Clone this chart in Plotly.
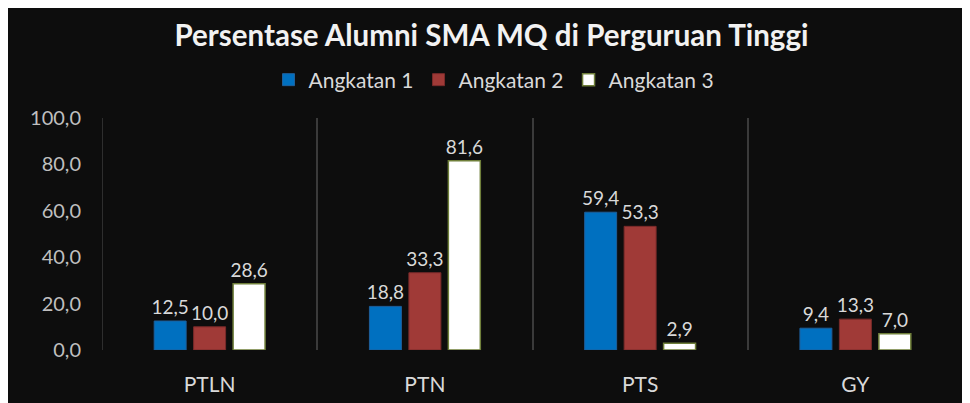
import plotly.graph_objects as go

categories = ["PTLN", "PTN", "PTS", "GY"]
angkatan1 = [12.5, 18.8, 59.4, 9.4]
angkatan2 = [10.0, 33.3, 53.3, 13.3]
angkatan3 = [28.6, 81.6, 2.9, 7.0]
series_names = ["Angkatan 1", "Angkatan 2", "Angkatan 3"]
y_ticks = [0, 20, 40, 60, 80, 100]

W, H = 970, 403
ML, MR, MT, MB = 94, 15, 110, 61

BG = "#0d0d0d"
FONT = "Lato"
TXT = "#d9d9d9"
GRID = "#3a3a3a"

fig = go.Figure()
styles = [
    dict(color="#0070C0", line=dict(color="#1f5f9a", width=1)),
    dict(color="#A03A37", line=dict(color="#7a2b2a", width=1)),
    dict(color="#FFFFFF", line=dict(color="#6f7f3a", width=1.5)),
]
for name, vals, st in zip(series_names, [angkatan1, angkatan2, angkatan3], styles):
    fig.add_trace(go.Bar(
        name=name, x=categories, y=vals,
        marker=st,
        texttemplate="%{y:.1f}", textposition="outside", constraintext="none",
        textfont=dict(family=FONT, size=19, color=TXT),
        cliponaxis=False,
    ))

# outer category boundary lines (left and right edges of the plot)
for xb in (-0.5, len(categories) - 0.5):
    fig.add_shape(type="line", xref="x", yref="paper", x0=xb, x1=xb, y0=0, y1=1,
                  line=dict(color=GRID, width=1.5), layer="below")

fig.update_layout(
    width=W, height=H,
    margin=dict(l=ML, r=MR, t=MT, b=MB, autoexpand=False),
    paper_bgcolor=BG, plot_bgcolor=BG,
    separators=",.",
    barmode="group", bargap=0.45, bargroupgap=0.19,
    title=dict(text="<b>Persentase Alumni SMA MQ di Perguruan Tinggi</b>",
               font=dict(family=FONT, size=29.5, color="#f2f2f2"),
               x=483.5 / W, xref="container", xanchor="center",
               y=1 - 28 / H, yref="container", yanchor="middle"),
    legend=dict(orientation="h", x=486 / W, xref="container", xanchor="center",
                y=1 - 72 / H, yref="container", yanchor="middle",
                font=dict(family=FONT, size=21, color=TXT), bgcolor="rgba(0,0,0,0)",
                itemwidth=30, traceorder="normal"),
    font=dict(family=FONT, color=TXT),
)
fig.update_xaxes(range=[-0.5, len(categories) - 0.5],
                 showgrid=True, tickson="boundaries", gridcolor=GRID, gridwidth=1.5,
                 showline=False, zeroline=False, ticks="",
                 tickfont=dict(family=FONT, size=21, color=TXT), ticklabelstandoff=20)
fig.update_yaxes(range=[0, 100], tickvals=y_ticks, tickformat=".1f", showgrid=False,
                 zeroline=False, showline=False,
                 tickfont=dict(family=FONT, size=20, color="#bfbfbf"), ticklabelstandoff=20)

fig.write_html("out.html")
